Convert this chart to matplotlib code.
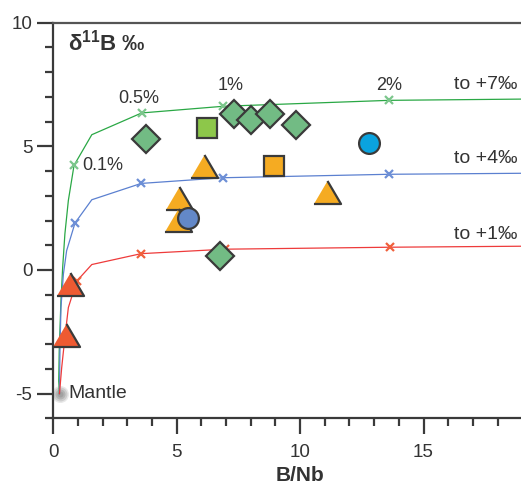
import matplotlib.pyplot as plt
from matplotlib.ticker import MultipleLocator

plt.rcParams['font.family'] = ['Liberation Sans', 'DejaVu Sans']
plt.rcParams['mathtext.fontset'] = 'custom'
plt.rcParams['mathtext.rm'] = 'Liberation Sans'
plt.rcParams['mathtext.bf'] = 'Liberation Sans:bold'

# mixing curves (B/Nb, d11B)
green_x = [0.25, 0.22, 0.24, 0.31, 0.38, 0.47, 0.61, 0.84, 1.56, 3.58, 6.89, 13.62, 18.95]
green_y = [-5.0, -4.49, -3.27, -1.24, 0.11, 1.46, 2.81, 4.23, 5.47, 6.35, 6.62, 6.86, 6.91]
blue_x = [0.25, 0.27, 0.31, 0.41, 0.54, 0.88, 1.56, 3.56, 6.89, 13.62, 18.95]
blue_y = [-5.0, -3.27, -1.52, -0.16, 0.78, 1.90, 2.84, 3.50, 3.73, 3.87, 3.91]
red_x = [0.25, 0.34, 0.47, 0.61, 0.95, 1.56, 3.56, 6.95, 13.65, 18.95]
red_y = [-5.0, -3.95, -2.73, -1.52, -0.45, 0.22, 0.66, 0.84, 0.92, 0.96]

# fractions marked with x
green_mark_x = [0.84, 3.58, 6.89, 13.62]
green_mark_y = [4.23, 6.35, 6.62, 6.86]
blue_mark_x = [0.88, 3.56, 6.89, 13.62]
blue_mark_y = [1.90, 3.50, 3.73, 3.87]
red_mark_x = [0.95, 3.56, 6.95, 13.65]
red_mark_y = [-0.45, 0.66, 0.84, 0.92]

# samples
diamond_x = [3.76, 7.34, 8.0, 8.80, 9.83, 6.76]
diamond_y = [5.28, 6.29, 6.05, 6.29, 5.87, 0.55]
lgsquare_x = [6.22]
lgsquare_y = [5.73]
orsquare_x = [8.95]
orsquare_y = [4.19]
ortri_x = [6.10, 5.11, 5.07, 11.08]
ortri_y = [4.21, 2.90, 2.04, 3.17]
bcircle_x = [5.45]
bcircle_y = [2.09]
ccircle_x = [12.81]
ccircle_y = [5.15]
redtri_x = [0.68, 0.50]
redtri_y = [-0.55, -2.63]

fig = plt.figure(figsize=(5.21, 4.87), dpi=100)
ax = fig.add_axes([0.1023, 0.141, 0.8977, 0.8124])

dark = '#3a3a3a'
ax.plot(green_x, green_y, color='#2aa845', lw=0.9, zorder=2)
ax.plot(blue_x, blue_y, color='#5b80d0', lw=0.9, zorder=2)
ax.plot(red_x, red_y, color='#ee3b3b', lw=0.9, zorder=2)
ax.plot(green_mark_x, green_mark_y, 'x', color='#7cc68c', ms=6, mew=1.6, zorder=2)
ax.plot(blue_mark_x, blue_mark_y, 'x', color='#6d8fd6', ms=6, mew=1.6, zorder=2)
ax.plot(red_mark_x, red_mark_y, 'x', color='#f0603c', ms=6, mew=1.6, zorder=2)

# mantle (blurred grey dot)
for s, a in [(17, 0.2), (14, 0.3), (10, 0.4), (6, 0.5)]:
    ax.plot([0.28], [-5.02], 'o', color='#8f8f8f', ms=s * 0.72, mew=0, alpha=a, zorder=1)

tri = [(-1, -0.85), (1, -0.85), (0, 0.85)]
edge = dict(mec=dark, mew=1.6, ls='none', zorder=4)
ax.plot(diamond_x, diamond_y, 'D', mfc='#72bb84', ms=14.2, **edge)
ax.plot(lgsquare_x, lgsquare_y, 's', mfc='#8dc74a', ms=15, **edge)
ax.plot(orsquare_x, orsquare_y, 's', mfc='#f5ab22', ms=15, **edge)
ax.plot(ortri_x, ortri_y, marker=tri, mfc='#f5ab22', ms=19.5, **edge)
ax.plot(bcircle_x, bcircle_y, 'o', mfc='#6388c8', ms=15, **edge)
ax.plot(ccircle_x, ccircle_y, 'o', mfc='#0aa3df', ms=15, **edge)
ax.plot(redtri_x, redtri_y, marker=tri, mfc='#ee5a32', ms=19.5, **edge)

txt = '#333333'
ax.text(1.17, 4.23, '0.1%', fontsize=13, color=txt, ha='left', va='center')
ax.text(3.48, 6.94, '0.5%', fontsize=13, color=txt, ha='center', va='center')
ax.text(7.17, 7.47, '1%', fontsize=13, color=txt, ha='center', va='center')
ax.text(13.62, 7.47, '2%', fontsize=13, color=txt, ha='center', va='center')
ax.text(18.8, 7.5, 'to +7‰', fontsize=14, color=txt, ha='right', va='center')
ax.text(18.8, 4.5, 'to +4‰', fontsize=14, color=txt, ha='right', va='center')
ax.text(18.8, 1.43, 'to +1‰', fontsize=14, color=txt, ha='right', va='center')
ax.text(0.62, -5.0, 'Mantle', fontsize=14, color=txt, ha='left', va='center')
ax.text(0.6, 9.2, r'δ$^{\mathbf{11}}$B ‰', fontsize=16, fontweight='bold', color=txt,
        ha='left', va='center')
ax.text(10.0, -8.3, 'B/Nb', fontsize=15, fontweight='bold', color=txt,
        ha='center', va='center')

ax.set_xlim(0, 18.95)
ax.set_ylim(-6, 10)
ax.xaxis.set_major_locator(MultipleLocator(5))
ax.xaxis.set_minor_locator(MultipleLocator(1))
ax.yaxis.set_major_locator(MultipleLocator(5))
ax.yaxis.set_minor_locator(MultipleLocator(1))
ax.set_yticks([-5, 0, 5, 10])
ax.set_yticklabels(['-5', '0', '5', '10'])

ax.spines['right'].set_visible(False)
for sp in ['left', 'bottom', 'top']:
    ax.spines[sp].set_color(dark)
    ax.spines[sp].set_linewidth(1.6)
ax.spines['top'].set_color('#555555')
ax.tick_params(which='major', direction='out', length=11.5, width=1.6, color=dark,
               labelsize=13.5, labelcolor=txt)
ax.tick_params(which='minor', direction='out', length=5.8, width=1.6, color=dark)
ax.tick_params(axis='x', which='major', pad=7)
ax.tick_params(axis='y', which='major', pad=3.5)

fig.savefig('out.png', dpi=100)
